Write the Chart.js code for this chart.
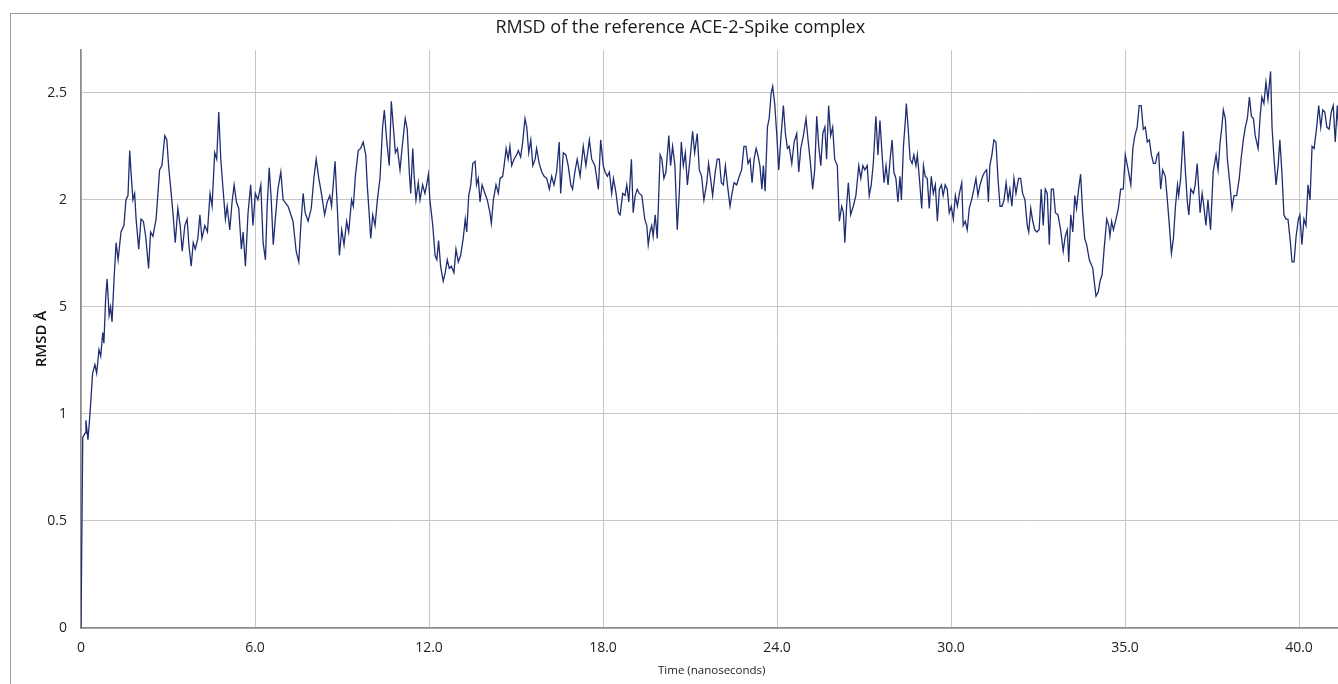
<!DOCTYPE html>
<html>
<head>
<meta charset="utf-8">
<title>RMSD of the reference ACE-2-Spike complex</title>
<script src="https://cdn.jsdelivr.net/npm/chart.js@4.4.1/dist/chart.umd.min.js"></script>
<style>
    html, body { margin: 0; padding: 0; background: #fff; overflow: hidden; }
    .frame {
        position: absolute; left: 10px; top: 13px;
        width: 1400px; height: 700px;
        border: 1px solid #9a9a9a;
    }
    #rmsdChart { position: absolute; left: 0; top: 0; }
</style>
</head>
<body>
<div class="frame"></div>
<canvas id="rmsdChart" width="1360" height="684"></canvas>
<script>
// Tick labels as printed on the original figure
const xTickLabels = ['0', '6.0', '12.0', '18.0', '24.0', '30.0', '35.0', '40.0'];
const yTickLabels = ['0', '0.5', '1', '5', '2', '2.5'];

// Time along the axis (6 units between gridlines) and RMSD values
const timeNs = [
    0, 0.06, 0.14, 0.17, 0.24, 0.31, 0.40, 0.48, 0.54, 0.62,
    0.68, 0.75, 0.79, 0.85, 0.90, 0.97, 1.02, 1.07, 1.14, 1.21,
    1.28, 1.38, 1.48, 1.55, 1.62, 1.68, 1.72, 1.79, 1.85, 1.90,
    1.99, 2.07, 2.15, 2.23, 2.33, 2.40, 2.48, 2.59, 2.71, 2.79,
    2.89, 2.96, 3.02, 3.11, 3.17, 3.25, 3.34, 3.42, 3.49, 3.58,
    3.66, 3.72, 3.80, 3.87, 3.94, 4.03, 4.10, 4.17, 4.27, 4.36,
    4.45, 4.52, 4.61, 4.68, 4.75, 4.82, 4.91, 4.98, 5.04, 5.13,
    5.21, 5.28, 5.36, 5.44, 5.53, 5.59, 5.67, 5.76, 5.85, 5.93,
    6.01, 6.10, 6.20, 6.28, 6.36, 6.42, 6.49, 6.56, 6.63, 6.70,
    6.79, 6.89, 6.97, 7.14, 7.31, 7.42, 7.51, 7.58, 7.66, 7.73,
    7.83, 7.94, 8.03, 8.11, 8.20, 8.29, 8.40, 8.49, 8.58, 8.64,
    8.76, 8.84, 8.91, 8.99, 9.07, 9.16, 9.23, 9.33, 9.39, 9.46,
    9.56, 9.64, 9.73, 9.82, 9.87, 9.94, 9.99, 10.06, 10.14, 10.22,
    10.31, 10.40, 10.46, 10.54, 10.63, 10.70, 10.77, 10.84, 10.91, 11.00,
    11.07, 11.14, 11.18, 11.25, 11.32, 11.37, 11.44, 11.48, 11.55, 11.63,
    11.69, 11.78, 11.86, 11.92, 11.98, 12.03, 12.13, 12.21, 12.27, 12.33,
    12.40, 12.49, 12.56, 12.63, 12.70, 12.77, 12.86, 12.93, 13.01, 13.09,
    13.18, 13.25, 13.30, 13.37, 13.44, 13.51, 13.59, 13.64, 13.70, 13.76,
    13.83, 13.93, 14.01, 14.10, 14.15, 14.22, 14.31, 14.39, 14.45, 14.54,
    14.59, 14.66, 14.73, 14.79, 14.85, 14.93, 15.02, 15.08, 15.16, 15.23,
    15.31, 15.37, 15.44, 15.51, 15.58, 15.66, 15.71, 15.80, 15.89, 15.97,
    16.06, 16.15, 16.23, 16.31, 16.40, 16.49, 16.54, 16.63, 16.72, 16.80,
    16.89, 16.95, 17.03, 17.11, 17.21, 17.32, 17.41, 17.53, 17.61, 17.72,
    17.84, 17.92, 18.01, 18.07, 18.15, 18.22, 18.30, 18.36, 18.45, 18.53,
    18.59, 18.68, 18.76, 18.82, 18.89, 18.98, 19.04, 19.11, 19.18, 19.25,
    19.34, 19.44, 19.51, 19.56, 19.62, 19.68, 19.73, 19.80, 19.87, 19.97,
    20.03, 20.10, 20.17, 20.27, 20.33, 20.40, 20.48, 20.56, 20.63, 20.70,
    20.77, 20.84, 20.91, 21.00, 21.09, 21.16, 21.25, 21.32, 21.40, 21.48,
    21.58, 21.64, 21.71, 21.78, 21.87, 21.94, 22.01, 22.08, 22.15, 22.22,
    22.29, 22.38, 22.45, 22.52, 22.61, 22.70, 22.78, 22.86, 22.93, 23.00,
    23.07, 23.14, 23.21, 23.28, 23.34, 23.41, 23.48, 23.53, 23.59, 23.67,
    23.73, 23.80, 23.85, 23.92, 23.99, 24.06, 24.13, 24.22, 24.29, 24.36,
    24.42, 24.51, 24.59, 24.68, 24.75, 24.82, 24.91, 25.00, 25.07, 25.14,
    25.23, 25.30, 25.37, 25.44, 25.51, 25.58, 25.65, 25.71, 25.78, 25.85,
    25.92, 25.99, 26.08, 26.15, 26.23, 26.29, 26.34, 26.40, 26.46, 26.54,
    26.63, 26.72, 26.82, 26.89, 26.96, 27.03, 27.11, 27.18, 27.25, 27.32,
    27.41, 27.48, 27.55, 27.62, 27.69, 27.76, 27.83, 27.90, 27.97, 28.03,
    28.10, 28.17, 28.24, 28.29, 28.36, 28.43, 28.46, 28.52, 28.59, 28.66,
    28.72, 28.79, 28.84, 28.91, 28.99, 29.05, 29.11, 29.18, 29.25, 29.32,
    29.39, 29.46, 29.53, 29.60, 29.67, 29.73, 29.80, 29.87, 29.94, 30.01,
    30.08, 30.15, 30.22, 30.29, 30.37, 30.42, 30.49, 30.56, 30.63, 30.71,
    30.79, 30.86, 30.93, 31.00, 31.09, 31.16, 31.23, 31.29, 31.34, 31.41,
    31.48, 31.55, 31.62, 31.69, 31.76, 31.83, 31.90, 31.97, 32.03, 32.10,
    32.17, 32.24, 32.33, 32.40, 32.47, 32.55, 32.63, 32.68, 32.75, 32.82,
    32.89, 32.96, 33.04, 33.11, 33.18, 33.25, 33.32, 33.39, 33.46, 33.53,
    33.60, 33.69, 33.78, 33.87, 33.94, 34.01, 34.06, 34.13, 34.20, 34.27,
    34.33, 34.40, 34.47, 34.54, 34.61, 34.68, 34.77, 34.89, 34.93, 35.00,
    35.08, 35.14, 35.21, 35.28, 35.37, 35.44, 35.48, 35.54, 35.60, 35.69,
    35.77, 35.85, 35.94, 36.01, 36.11, 36.20, 36.27, 36.34, 36.42, 36.49,
    36.56, 36.63, 36.70, 36.77, 36.84, 36.91, 36.98, 37.05, 37.11, 37.16,
    37.23, 37.30, 37.39, 37.46, 37.53, 37.60, 37.67, 37.74, 37.81, 37.85,
    37.92, 38.01, 38.08, 38.15, 38.20, 38.27, 38.36, 38.42, 38.49, 38.59,
    38.66, 38.72, 38.79, 38.86, 38.95, 39.04, 39.14, 39.21, 39.28, 39.34,
    39.39, 39.46, 39.53, 39.62, 39.69, 39.76, 39.85, 39.94, 40.01, 40.08,
    40.15, 40.22, 40.29, 40.36, 40.43, 40.49, 40.59, 40.66, 40.72, 40.79,
    40.86, 40.93, 41.02, 41.07, 41.14, 41.21, 41.28, 41.34, 41.41, 41.48,
    41.55, 41.62, 41.69, 41.76, 41.83, 41.90, 41.98, 42.03, 42.10, 42.17,
    42.24, 42.31, 42.38, 42.45, 42.52, 42.61, 42.68, 42.75, 42.82, 42.89,
    42.96, 43.04, 43.11, 43.18, 43.25, 43.32, 43.38
];

const rmsd = [
    0, 0.89, 0.91, 0.97, 0.88, 1.00, 1.19, 1.23, 1.19, 1.30,
    1.27, 1.38, 1.33, 1.54, 1.63, 1.46, 1.50, 1.43, 1.63, 1.80,
    1.72, 1.85, 1.88, 2.00, 2.02, 2.23, 2.14, 2.00, 2.03, 1.91,
    1.77, 1.91, 1.90, 1.83, 1.68, 1.85, 1.83, 1.91, 2.14, 2.16,
    2.30, 2.28, 2.16, 2.03, 1.94, 1.80, 1.96, 1.88, 1.76, 1.88,
    1.91, 1.79, 1.69, 1.80, 1.77, 1.82, 1.93, 1.82, 1.88, 1.85,
    2.03, 1.97, 2.22, 2.19, 2.41, 2.19, 2.03, 1.91, 1.97, 1.86,
    1.99, 2.07, 1.99, 1.96, 1.77, 1.85, 1.69, 1.94, 2.07, 1.88,
    2.03, 2.00, 2.07, 1.80, 1.72, 1.97, 2.15, 2.00, 1.79, 1.91,
    2.05, 2.13, 2.00, 1.97, 1.90, 1.76, 1.71, 1.88, 2.03, 1.94,
    1.90, 1.96, 2.10, 2.19, 2.10, 2.03, 1.93, 1.99, 2.02, 1.97,
    2.18, 1.96, 1.74, 1.86, 1.79, 1.90, 1.85, 2.00, 1.97, 2.11,
    2.23, 2.24, 2.27, 2.21, 2.07, 1.93, 1.82, 1.93, 1.88, 2.00,
    2.10, 2.34, 2.42, 2.28, 2.16, 2.46, 2.34, 2.22, 2.24, 2.14,
    2.24, 2.33, 2.38, 2.33, 2.13, 2.03, 2.24, 2.13, 2.00, 2.08,
    2.00, 2.07, 2.03, 2.07, 2.12, 2.00, 1.88, 1.74, 1.72, 1.81,
    1.69, 1.62, 1.66, 1.72, 1.68, 1.69, 1.66, 1.77, 1.71, 1.74,
    1.82, 1.91, 1.85, 2.02, 2.07, 2.17, 2.18, 2.07, 2.10, 1.99,
    2.07, 2.03, 2.00, 1.94, 1.89, 2.00, 2.07, 2.03, 2.10, 2.11,
    2.16, 2.24, 2.19, 2.25, 2.16, 2.19, 2.21, 2.23, 2.20, 2.27,
    2.38, 2.34, 2.22, 2.28, 2.16, 2.19, 2.24, 2.17, 2.13, 2.11,
    2.10, 2.05, 2.11, 2.07, 2.13, 2.27, 2.03, 2.22, 2.21, 2.16,
    2.07, 2.05, 2.13, 2.19, 2.11, 2.25, 2.16, 2.28, 2.19, 2.16,
    2.05, 2.28, 2.16, 2.13, 2.11, 2.13, 2.03, 2.10, 2.03, 1.94,
    1.93, 2.03, 2.02, 2.07, 1.99, 2.19, 1.94, 2.02, 2.05, 2.03,
    2.02, 1.91, 1.88, 1.79, 1.85, 1.88, 1.83, 1.93, 1.82, 2.21,
    2.19, 2.10, 2.13, 2.30, 2.16, 2.25, 2.16, 1.86, 2.03, 2.27,
    2.16, 2.22, 2.07, 2.19, 2.32, 2.22, 2.31, 2.14, 2.11, 2.00,
    2.08, 2.17, 2.10, 2.02, 2.13, 2.19, 2.19, 2.08, 2.07, 2.16,
    2.07, 1.97, 2.03, 2.08, 2.07, 2.11, 2.14, 2.25, 2.25, 2.17,
    2.19, 2.08, 2.19, 2.24, 2.21, 2.16, 2.05, 2.16, 2.04, 2.34,
    2.38, 2.50, 2.53, 2.45, 2.31, 2.14, 2.28, 2.44, 2.31, 2.24,
    2.25, 2.17, 2.27, 2.31, 2.13, 2.24, 2.30, 2.38, 2.28, 2.19,
    2.05, 2.14, 2.39, 2.25, 2.16, 2.31, 2.34, 2.19, 2.44, 2.30,
    2.34, 2.19, 2.16, 1.90, 1.97, 1.94, 1.80, 1.97, 2.08, 1.93,
    1.97, 2.02, 2.16, 2.10, 2.16, 2.14, 2.16, 2.02, 2.07, 2.17,
    2.39, 2.21, 2.37, 2.22, 2.08, 2.16, 2.07, 2.19, 2.28, 2.13,
    2.10, 1.99, 2.11, 2.00, 2.25, 2.38, 2.45, 2.34, 2.19, 2.17,
    2.21, 2.16, 2.21, 2.10, 1.96, 2.16, 2.11, 2.10, 1.96, 2.11,
    2.03, 2.07, 1.90, 2.05, 2.07, 2.02, 2.07, 2.05, 1.94, 1.97,
    1.91, 2.02, 1.97, 2.03, 2.08, 1.88, 1.90, 1.86, 1.96, 2.00,
    2.05, 2.10, 2.02, 2.07, 2.11, 2.13, 2.14, 1.99, 2.16, 2.21,
    2.28, 2.27, 2.10, 1.97, 1.97, 2.00, 2.08, 2.00, 2.05, 1.97,
    2.10, 2.03, 2.10, 2.10, 2.03, 2.00, 1.88, 1.85, 1.96, 1.90,
    1.86, 1.85, 1.86, 2.05, 1.88, 2.05, 2.03, 1.79, 2.05, 2.05,
    1.94, 1.93, 1.86, 1.76, 1.83, 1.86, 1.71, 1.93, 1.85, 2.02,
    1.96, 2.05, 2.12, 1.94, 1.82, 1.79, 1.72, 1.68, 1.63, 1.55,
    1.57, 1.62, 1.65, 1.77, 1.91, 1.88, 1.83, 1.90, 1.86, 1.91,
    1.96, 2.05, 2.05, 2.21, 2.14, 2.07, 2.24, 2.30, 2.34, 2.44,
    2.44, 2.33, 2.34, 2.27, 2.28, 2.21, 2.17, 2.17, 2.21, 2.22,
    2.05, 2.14, 2.11, 2.00, 1.88, 1.75, 1.82, 1.97, 2.07, 2.02,
    2.10, 2.32, 2.14, 1.99, 1.93, 2.05, 2.03, 2.07, 2.17, 1.94,
    2.03, 1.97, 1.88, 2.00, 1.86, 2.13, 2.21, 2.14, 2.27, 2.34,
    2.42, 2.38, 2.19, 2.07, 1.96, 2.02, 2.02, 2.10, 2.20, 2.28,
    2.34, 2.38, 2.48, 2.39, 2.38, 2.30, 2.24, 2.39, 2.48, 2.45,
    2.55, 2.47, 2.60, 2.34, 2.19, 2.07, 2.16, 2.28, 2.13, 1.93,
    1.91, 1.91, 1.82, 1.71, 1.71, 1.83, 1.91, 1.93, 1.79, 1.91,
    1.88, 2.07, 2.00, 2.25, 2.24, 2.34, 2.44, 2.34, 2.42, 2.41,
    2.34, 2.33, 2.41, 2.44, 2.27, 2.44, 2.30
];

const textFont = "'Open Sans', 'Noto Sans', sans-serif";
const gridColor = '#c6c6c6';
const axisColor = '#8a8a8a';

const points = timeNs.map((t, i) => ({ x: t, y: rmsd[i] }));

new Chart(document.getElementById('rmsdChart'), {
    type: 'line',
    data: {
        datasets: [{
            label: 'RMSD',
            data: points,
            borderColor: '#1f2d72',
            borderWidth: 1.3,
            pointRadius: 0,
            tension: 0,
            fill: false
        }]
    },
    options: {
        responsive: false,
        animation: false,
        layout: { padding: { left: 18, right: 17.5, top: 0, bottom: 0 } },
        plugins: {
            legend: { display: false },
            tooltip: { enabled: false },
            title: {
                display: true,
                text: 'RMSD of the reference ACE-2-Spike complex',
                color: '#1a1a1a',
                font: { family: textFont, size: 18, weight: 'normal', lineHeight: 1.2 },
                padding: { top: 17, bottom: 11.4 }
            }
        },
        scales: {
            x: {
                type: 'linear',
                min: 0,
                max: 43.5,
                afterFit: scale => { scale.height = 56; },
                grid: { color: gridColor, drawTicks: false },
                border: { color: axisColor, width: 1.5 },
                ticks: {
                    stepSize: 6,
                    includeBounds: false,
                    autoSkip: false,
                    maxRotation: 0,
                    padding: 12,
                    color: '#222',
                    font: { family: textFont, size: 14 },
                    callback: (value, index) => xTickLabels[index]
                },
                title: {
                    display: true,
                    text: 'Time (nanoseconds)',
                    color: '#222',
                    font: { family: textFont, size: 11.5, lineHeight: 1.2 },
                    padding: { top: 0, bottom: 6 }
                }
            },
            y: {
                min: 0,
                max: 2.7,
                afterFit: scale => { scale.width = 63; },
                grid: { color: gridColor, drawTicks: false },
                border: { color: axisColor, width: 1.5 },
                ticks: {
                    stepSize: 0.5,
                    includeBounds: false,
                    padding: 14,
                    color: '#222',
                    font: { family: textFont, size: 14 },
                    callback: (value, index) => yTickLabels[index]
                },
                title: {
                    display: true,
                    text: 'RMSD Å',
                    color: '#111',
                    font: { family: textFont, size: 15, weight: '600', lineHeight: 1.2 },
                    padding: { top: 15, bottom: 0 }
                }
            }
        }
    }
});
</script>
</body>
</html>
